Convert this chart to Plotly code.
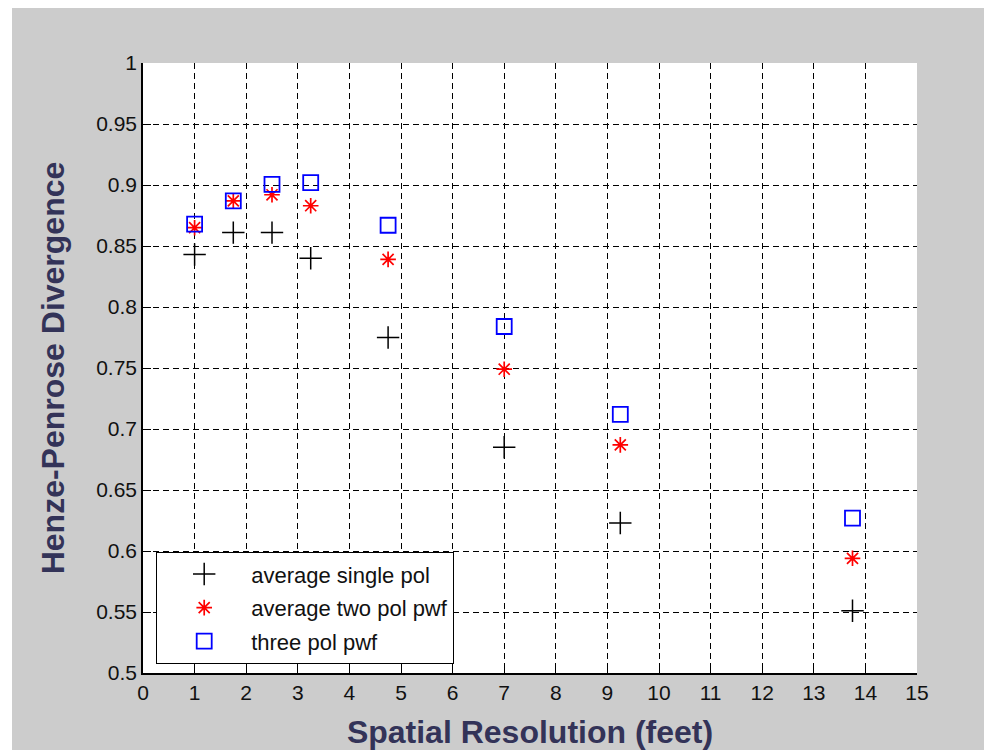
import plotly.graph_objects as go

resolution = [1, 1.75, 2.5, 3.25, 4.75, 7, 9.25, 13.75]
single_pol = [0.843, 0.861, 0.861, 0.840, 0.775, 0.685, 0.623, 0.551]
two_pol_pwf = [0.865, 0.887, 0.892, 0.883, 0.839, 0.749, 0.687, 0.594]
three_pol_pwf = [0.868, 0.887, 0.9005, 0.902, 0.867, 0.784, 0.712, 0.627]

x_ticks = list(range(0, 16))
y_ticks = [0.5, 0.55, 0.6, 0.65, 0.7, 0.75, 0.8, 0.85, 0.9, 0.95, 1.0]
y_labels = ["0.5", "0.55", "0.6", "0.65", "0.7", "0.75", "0.8", "0.85", "0.9", "0.95", "1"]

# the page body adds an 8px offset, so the figure is 8px smaller each way
OFF = 8
W, H = 992 - OFF, 750 - OFF
L, R, T, B = 143 - OFF, 75, 63 - OFF, 77
pw, ph = W - L - R, H - T - B

fig = go.Figure()
fig.add_trace(go.Scatter(
    x=resolution, y=single_pol, mode="markers", name="average single pol",
    legendgroup="a",
    marker=dict(symbol="cross-thin", size=16, color="black",
                line=dict(color="black", width=1.5))))
fig.add_trace(go.Scatter(
    x=resolution, y=two_pol_pwf, mode="markers", name="average two pol pwf",
    legendgroup="b",
    marker=dict(symbol="asterisk-open", size=13, color="red",
                line=dict(color="red", width=1.7))))
fig.add_trace(go.Scatter(
    x=resolution, y=three_pol_pwf, mode="markers", name="three pol pwf",
    legendgroup="c",
    marker=dict(symbol="square-open", size=15, color="blue",
                line=dict(color="blue", width=1.8))))

title_font = dict(family="Liberation Sans, Arial, sans-serif", size=32, color="#333358")
tick_font = dict(family="Liberation Sans, Arial, sans-serif", size=21, color="#111111")

fig.update_xaxes(
    range=[0, 15], tickvals=x_ticks, ticktext=[str(v) for v in x_ticks],
    showgrid=True, gridcolor="black", gridwidth=1, griddash="6px,4px",
    showline=True, linecolor="black", linewidth=1.5,
    ticks="inside", ticklen=8, tickcolor="black", tickwidth=1,
    tickfont=tick_font, zeroline=False, automargin=False,
    title=dict(text="<b>Spatial Resolution (feet)</b>", font=title_font, standoff=23))
fig.update_yaxes(
    range=[0.5, 1.0], tickvals=y_ticks, ticktext=y_labels,
    showgrid=True, gridcolor="black", gridwidth=1, griddash="6px,4px",
    showline=True, linecolor="black", linewidth=1.5,
    ticks="inside", ticklen=8, tickcolor="black", tickwidth=1,
    tickfont=tick_font, zeroline=False, automargin=False,
    title=dict(text="<b>Henze-Penrose Divergence</b>", font=title_font, standoff=22))

shapes = [
    # white strip at the picture's left edge
    dict(type="rect", xref="paper", yref="paper", layer="below",
         x0=-L / pw, x1=(12 - 143) / pw, y0=-B / ph, y1=1 + T / ph,
         fillcolor="white", line=dict(width=0)),
]

fig.update_layout(
    width=W, height=H,
    margin=dict(l=L, r=R, t=T, b=B, autoexpand=False),
    paper_bgcolor="#cccccc", plot_bgcolor="white",
    shapes=shapes,
    showlegend=True,
    legend=dict(
        x=(156 - 143) / pw, y=(673 - 664) / ph, xanchor="left", yanchor="bottom",
        bgcolor="white", bordercolor="black", borderwidth=1.2,
        font=dict(family="Liberation Sans, Arial, sans-serif", size=22, color="#111111"),
        traceorder="grouped", tracegroupgap=2, itemwidth=84),
)

fig.write_html("out.html")
